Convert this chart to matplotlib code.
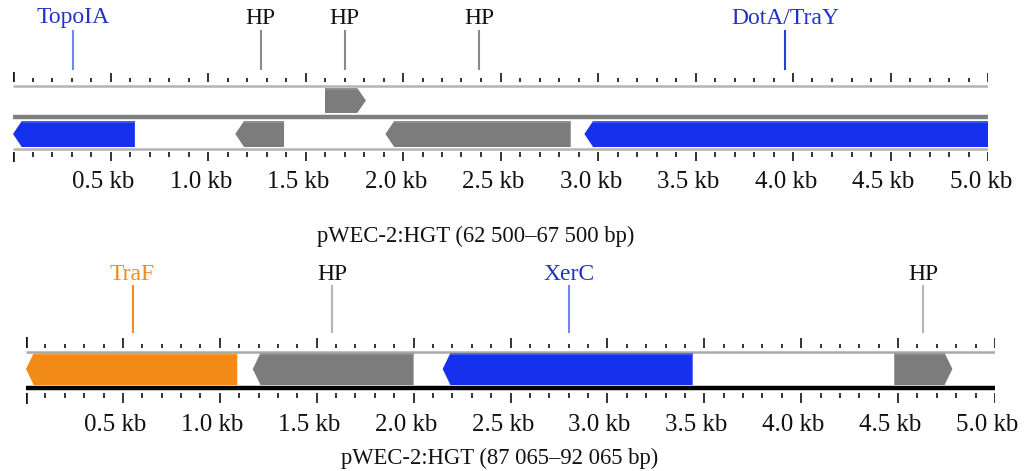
import numpy as np
import matplotlib
matplotlib.use("Agg")
import matplotlib.pyplot as plt
from matplotlib.patches import Polygon

plt.rcParams['font.family'] = ['Liberation Serif', 'DejaVu Serif']

# ---- data (kb) ----
tick_labels = ['0.5 kb', '1.0 kb', '1.5 kb', '2.0 kb', '2.5 kb',
               '3.0 kb', '3.5 kb', '4.0 kb', '4.5 kb', '5.0 kb']
tick_pos = [0.5, 1.0, 1.5, 2.0, 2.5, 3.0, 3.5, 4.0, 4.5, 5.0]

# top region
top_title = 'pWEC-2:HGT (62 500\u201367 500 bp)'
top_gene_start = [0.0, 1.14, 1.60, 1.91, 2.93]
top_gene_end = [0.625, 1.39, 1.81, 2.86, 5.0]
top_gene_strand = [-1, -1, 1, -1, -1]
top_gene_kind = ['blue', 'gray', 'gray', 'gray', 'blue']
top_label_text = ['TopoIA', 'HP', 'HP', 'HP', 'DotA/TraY']
top_label_pos = [0.31, 1.27, 1.70, 2.39, 3.96]
top_label_kind = ['blue', 'hp', 'hp', 'hp', 'blue2']

# bottom region
bot_title = 'pWEC-2:HGT (87 065\u201392 065 bp)'
bot_gene_start = [0.0, 1.17, 2.15, 4.48]
bot_gene_end = [1.09, 2.0, 3.44, 4.78]
bot_gene_strand = [-1, -1, -1, 1]
bot_gene_kind = ['orange', 'gray', 'blue', 'gray']
bot_label_text = ['TraF', 'HP', 'XerC', 'HP']
bot_label_pos = [0.55, 1.58, 2.80, 4.63]
bot_label_kind = ['orange', 'hp2', 'blue', 'hp2']

gene_col = {'blue': '#1530ee', 'gray': '#7c7c7c', 'orange': '#f28a17'}
gene_top = {'blue': '#4a60f2', 'gray': '#959595', 'orange': '#f5a24a'}
text_col = {'blue': '#1f33c4', 'blue2': '#1f33c4', 'hp': '#111111', 'hp2': '#111111', 'orange': '#f28a17'}
line_col = {'blue': '#7383f2', 'blue2': '#2a3fd2', 'hp': '#8a8a8a', 'hp2': '#b5b5b5', 'orange': '#f28a17'}

W, H = 1028, 471
fig = plt.figure(figsize=(W / 100, H / 100), dpi=100)


def gene(ax, s, e, strand, y0, y1, kind, head=0.045):
    ym = (y0 + y1) / 2
    if strand < 0:
        pts = [(s, ym), (s + head, y0), (e, y0), (e, y1), (s + head, y1)]
    else:
        pts = [(s, y0), (e - head, y0), (e, ym), (e - head, y1), (s, y1)]
    ax.add_patch(Polygon(pts, closed=True, facecolor=gene_col[kind], edgecolor='none'))
    # lighter rim along the top edge
    if strand < 0:
        ax.plot([s + head, e], [y0 + 1, y0 + 1], color=gene_top[kind], lw=1.2, solid_capstyle='butt')
    else:
        ax.plot([s, e - head], [y0 + 1, y0 + 1], color=gene_top[kind], lw=1.2, solid_capstyle='butt')


def ruler(ax, y_top, y_bot, up_ticks, low_ticks):
    t = np.round(np.arange(0, 5.0001, 0.1), 1)
    major = np.isclose(t * 2, np.round(t * 2))
    ax.vlines(t[~major], y_top - up_ticks[0], y_top, color='#333333', lw=1.4)
    ax.vlines(t[major], y_top - up_ticks[1], y_top, color='#333333', lw=1.4)
    ax.vlines([0], y_top - up_ticks[1] - 1, y_top, color='#111111', lw=2.6)
    ax.vlines(t[~major], y_bot, y_bot + low_ticks[0], color='#333333', lw=1.4)
    ax.vlines(t[major], y_bot, y_bot + low_ticks[1], color='#333333', lw=1.4)
    ax.vlines([0], y_bot, y_bot + low_ticks[1] + 1, color='#111111', lw=2.6)


def labels(ax, txt, pos, kind, y_text, y0, y1):
    for t, p, k in zip(txt, pos, kind):
        ax.plot([p, p], [y0, y1], color=line_col[k], lw=1.5, solid_capstyle='butt')
        ax.text(p, y_text, t, color=text_col[k], ha='center', va='center', fontsize=17)


# ---- top panel ----
ax1 = fig.add_axes([13 / W, 0, 975 / W, 1])
ax1.set_xlim(0, 5)
ax1.set_ylim(H, 0)
ax1.axis('off')
ruler(ax1, 82, 152, (4, 9), (5, 9))
ax1.plot([0, 5], [86, 86], color='#b4b4b4', lw=1.8, solid_capstyle='butt')
ax1.plot([0, 5], [149, 149], color='#b4b4b4', lw=1.8, solid_capstyle='butt')
ax1.plot([0, 5], [117, 117], color='#808080', lw=3.2, solid_capstyle='butt')
for s, e, st, k in zip(top_gene_start, top_gene_end, top_gene_strand, top_gene_kind):
    if st > 0:
        gene(ax1, s, e, st, 88, 113, k)
    else:
        gene(ax1, s, e, st, 121, 147, k)
labels(ax1, top_label_text, top_label_pos, top_label_kind, 18, 30, 70)
for p, t in zip(tick_pos, tick_labels):
    ax1.text(p - 0.035, 182, t, ha='center', va='center', fontsize=18, color='#111111')
ax1.text(2.375, 236, top_title, ha='center', va='center', fontsize=16.3, color='#111111')

# ---- bottom panel ----
ax2 = fig.add_axes([26 / W, 0, 969 / W, 1])
ax2.set_xlim(0, 5)
ax2.set_ylim(H, 0)
ax2.axis('off')
ruler(ax2, 348, 393, (4, 10), (5, 10))
ax2.plot([0, 5], [351.5, 351.5], color='#a8a8a8', lw=1.8, solid_capstyle='butt')
for s, e, st, k in zip(bot_gene_start, bot_gene_end, bot_gene_strand, bot_gene_kind):
    gene(ax2, s, e, st, 353, 385, k, head=0.04)
ax2.plot([0, 5], [388, 388], color='#000000', lw=3.2, solid_capstyle='butt')
labels(ax2, bot_label_text, bot_label_pos, bot_label_kind, 275, 285, 333)
for p, t in zip(tick_pos, tick_labels):
    ax2.text(p - 0.04, 425, t, ha='center', va='center', fontsize=18, color='#111111')
ax2.text(2.445, 458, bot_title, ha='center', va='center', fontsize=16.3, color='#111111')

fig.savefig('out.png', dpi=100)
